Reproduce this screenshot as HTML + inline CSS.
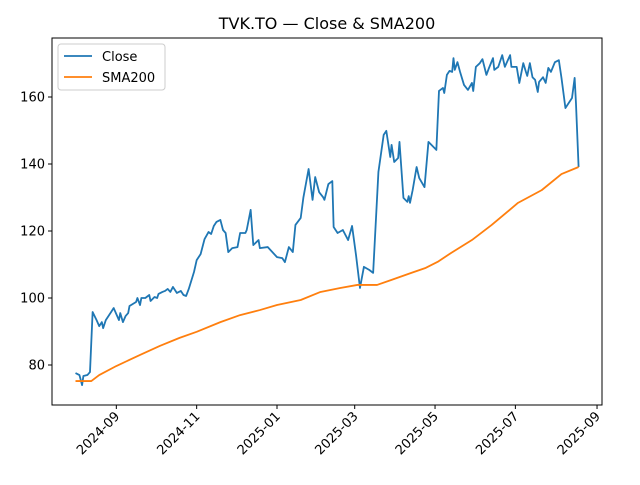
<!DOCTYPE html>
<html><head><meta charset="utf-8"><style>
body{margin:0;background:#fff}
svg text{font-family:"DejaVu Sans","Liberation Sans",sans-serif;fill:#000}
</style></head><body>
<svg width="640" height="480" viewBox="0 0 640 480">
<rect width="640" height="480" fill="#fff"/>
<text x="327" y="29" font-size="16" text-anchor="middle">TVK.TO — Close &amp; SMA200</text>
<g id="plot"></g>
<rect x="52" y="38" width="550" height="367" fill="none" stroke="#000" stroke-width="1"/>
<g>
<rect x="58" y="44" width="107" height="46" rx="3" fill="#fff" fill-opacity="0.8" stroke="#ccc"/>
<line x1="64" y1="56" x2="92" y2="56" stroke="#1f77b4" stroke-width="1.8"/>
<text x="102" y="61" font-size="13">Close</text>
<line x1="64" y1="77" x2="92" y2="77" stroke="#ff7f0e" stroke-width="1.8"/>
<text x="102" y="82" font-size="13">SMA200</text>
</g>
</svg>
<script>
// days since 2024-08-01
const closeDays=[0,3,5,6,9,11,13,16,18,20,21,23,27,29,31,33,34,36,38,40,41,46,47,49,50,53,56,57,60,62,63,66,68,70,72,74,77,80,82,84,86,90,92,95,98,101,103,105,107,110,112,114,116,119,123,125,129,130,133,135,139,140,146,153,157,159,162,165,167,171,173,177,180,182,185,188,189,192,195,196,199,203,207,210,213,216,219,223,226,230,234,236,239,240,242,245,246,249,252,253,254,256,259,261,265,268,274,276,279,280,282,284,286,287,288,290,292,295,298,301,302,304,307,309,312,314,317,318,321,324,326,330,331,335,337,340,342,343,345,347,349,351,352,355,357,359,361,364,367,369,372,375,377,379,380,382];
const closeVals=[77.6,77.0,74.0,76.7,77.0,77.9,95.8,93.4,91.6,92.8,91.0,93.4,95.8,97.0,95.2,93.4,95.5,92.8,94.6,95.5,97.6,98.8,100.0,97.9,100.0,100.0,100.9,99.1,100.3,100.0,101.2,101.8,102.1,102.7,101.8,103.3,101.5,102.1,100.9,100.6,102.7,107.8,111.3,113.1,117.6,119.7,119.1,121.5,122.7,123.3,120.3,119.4,113.7,114.9,115.2,119.4,119.4,120.3,126.3,115.8,117.3,114.9,115.2,112.2,111.9,110.7,115.2,113.7,121.8,123.9,129.9,138.5,129.3,136.1,131.6,130.1,129.3,134.0,134.9,121.2,119.4,120.3,117.3,121.5,112.8,103.0,109.3,108.4,107.5,137.6,148.7,149.9,142.1,145.7,140.6,141.8,146.6,129.9,128.7,130.4,128.4,132.2,139.1,135.8,133.1,146.6,144.2,161.8,162.7,161.2,166.6,167.8,167.5,171.6,168.1,170.4,167.5,163.6,162.1,164.2,161.8,169.0,170.1,171.3,166.6,168.7,171.6,168.1,169.0,172.5,169.0,172.5,169.0,169.0,164.2,170.1,167.5,166.3,170.1,165.9,165.1,161.5,164.5,165.9,164.2,168.7,167.5,170.4,171.0,165.7,156.7,158.5,159.7,165.7,158.2,139.1];
const smaDays=[0,12,18,31,49,64,79,92,110,125,140,153,171,186,201,214,229,240,255,266,275,285,301,316,336,354,369,382];
const smaVals=[75.2,75.2,77.0,79.7,83.0,85.7,88.1,89.9,92.8,94.9,96.4,97.9,99.4,101.8,103.0,103.9,103.9,105.4,107.5,109.0,110.8,113.4,117.3,121.8,128.4,132.2,137.0,139.1];
const xTickDays=[31,92,153,212,273,334,396];
const xTickLabels=["2024-09","2024-11","2025-01","2025-03","2025-05","2025-07","2025-09"];
const yTicks=[80,100,120,140,160];

const NS="http://www.w3.org/2000/svg";
const xS=d=>75.5+d*1.317;
const yS=v=>365-(v-80)*3.35;
const g=document.getElementById('plot');
function mk(t,a){const e=document.createElementNS(NS,t);for(const k in a)e.setAttribute(k,a[k]);g.appendChild(e);return e;}
yTicks.forEach(v=>{
  const y=yS(v);
  const t=mk('line',{x1:48,x2:52,y1:y,y2:y,stroke:'#000'});
  
  
  const l=mk('text',{x:45,y:y+4.5,'font-size':13,'text-anchor':'end'});
  l.textContent=v;
  
  
});
xTickDays.forEach((d,i)=>{
  const x=xS(d);
  const t=mk('line',{x1:x,x2:x,y1:405,y2:409,stroke:'#000'});
  
  
  const l=mk('text',{x:x+4,y:417,'font-size':13,'text-anchor':'end',transform:`rotate(-45 ${x+4} 417)`});
  l.textContent=xTickLabels[i];
  
  
});
const cp=mk('polyline',{fill:'none',stroke:'#1f77b4','stroke-width':1.8,'stroke-linejoin':'round',points:closeDays.map((d,i)=>xS(d)+','+yS(closeVals[i])).join(' ')});


const sp=mk('polyline',{fill:'none',stroke:'#ff7f0e','stroke-width':1.8,'stroke-linejoin':'round',points:smaDays.map((d,i)=>xS(d)+','+yS(smaVals[i])).join(' ')});


</script>
</body></html>
